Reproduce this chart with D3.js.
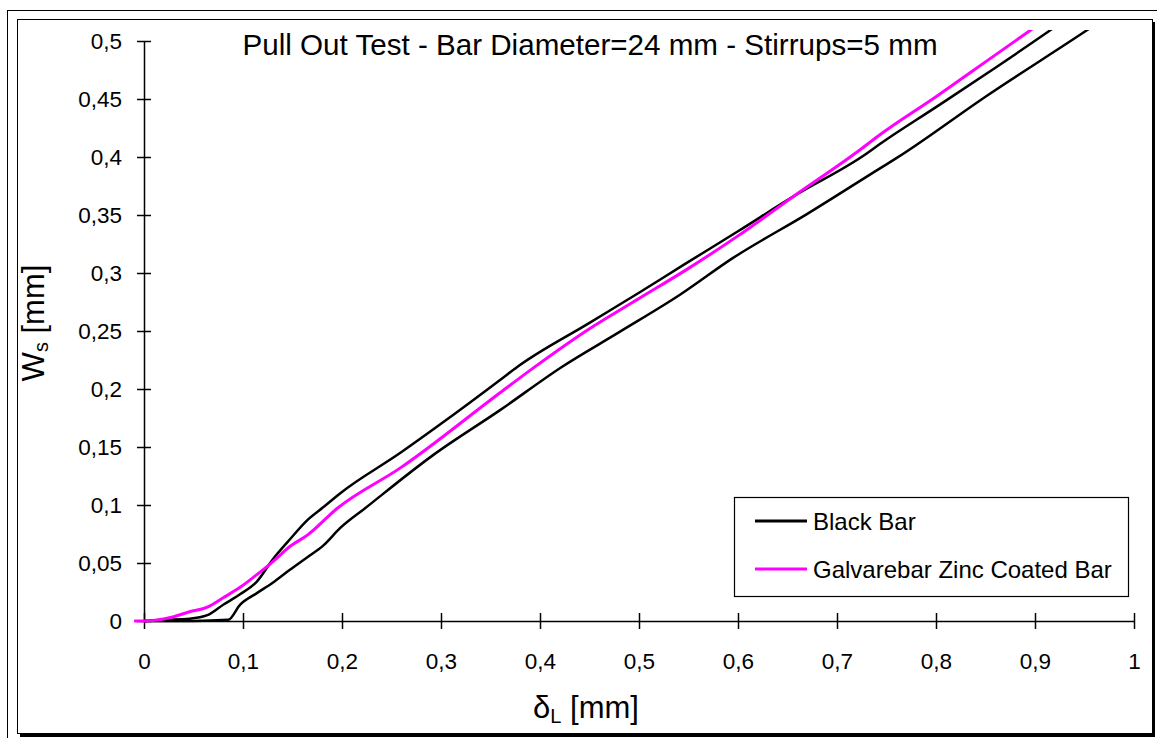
<!DOCTYPE html>
<html><head><meta charset="utf-8">
<script src="https://cdn.jsdelivr.net/npm/d3@7"></script>
<style>body{margin:0;background:#fff}svg{display:block}text{font-family:"Liberation Sans",Arial,sans-serif;fill:#000}</style>
</head><body>
<svg id="c" width="1157" height="738"></svg>
<script>
// ---- data ----
const title = "Pull Out Test - Bar Diameter=24 mm - Stirrups=5 mm";
const xTicks = [0,0.1,0.2,0.3,0.4,0.5,0.6,0.7,0.8,0.9,1];
const yTicks = [0,0.05,0.1,0.15,0.2,0.25,0.3,0.35,0.4,0.45,0.5];
const seriesNames = ["Black Bar","Galvarebar Zinc Coated Bar"];
// Black bar, specimen 1 (upper black curve): [δL, Ws]
const black1 = [[0,0],[0.02,0.001],[0.046,0.002],[0.064,0.005],[0.08,0.014],[0.097,0.023],[0.114,0.034],[0.13,0.053],[0.147,0.07],[0.165,0.087],[0.181,0.098],[0.198,0.11],[0.259,0.145],[0.3,0.17],[0.36,0.208],[0.377,0.219],[0.45,0.257],[0.5,0.283],[0.545,0.307],[0.6,0.336],[0.656,0.366],[0.73,0.403],[0.743,0.411],[0.8,0.443],[0.86,0.477],[0.915,0.509],[0.95,0.53]];
// Black bar, specimen 2 (lower black curve)
const black2 = [[0,0],[0.05,0],[0.085,0.001],[0.097,0.014],[0.114,0.024],[0.13,0.033],[0.147,0.044],[0.165,0.055],[0.181,0.065],[0.198,0.08],[0.223,0.097],[0.292,0.143],[0.36,0.182],[0.422,0.219],[0.48,0.249],[0.541,0.281],[0.595,0.313],[0.67,0.351],[0.743,0.39],[0.76,0.399],[0.85,0.452],[0.952,0.509],[0.98,0.525]];
// Galvarebar zinc coated bar
const galva = [[-0.01,0],[0,0],[0.029,0.0035],[0.046,0.008],[0.064,0.012],[0.08,0.02],[0.097,0.029],[0.114,0.04],[0.13,0.051],[0.147,0.064],[0.165,0.074],[0.195,0.097],[0.259,0.132],[0.36,0.197],[0.393,0.218],[0.45,0.252],[0.5,0.278],[0.55,0.304],[0.6,0.332],[0.656,0.366],[0.723,0.406],[0.743,0.419],[0.8,0.452],[0.85,0.482],[0.895,0.509],[0.93,0.53]];

// ---- drawing ----
const svg = d3.select("#c");
const X0=144, X1=1134, Y0=621, Y1=41;
const x = d3.scaleLinear().domain([0,1]).range([X0,X1]);
const y = d3.scaleLinear().domain([0,0.5]).range([Y0,Y1]);
const fmt = d => String(+d.toFixed(2)).replace(".",",");

// frame
svg.append("line").attr("x1",7).attr("y1",10.5).attr("x2",1157).attr("y2",10.5).attr("stroke","#000");
svg.append("line").attr("x1",7.5).attr("y1",10).attr("x2",7.5).attr("y2",738).attr("stroke","#000");
svg.append("rect").attr("x",20).attr("y",22).attr("width",1135).attr("height",715).attr("fill","#000");
svg.append("rect").attr("x",17.5).attr("y",19.5).attr("width",1135).attr("height",714).attr("fill","#fff").attr("stroke","#000");

// title
svg.append("text").attr("x",590).attr("y",55).attr("text-anchor","middle").attr("font-size",29.6).text(title);

// axes
const gx = svg.append("g").attr("transform",`translate(0,${Y0})`)
  .call(d3.axisBottom(x).tickValues(xTicks).tickFormat(fmt).tickSizeInner(8).tickSizeOuter(0).tickPadding(24));
gx.selectAll(".tick line").attr("y1",-8).attr("stroke-width",1.5);
gx.select(".domain").attr("stroke-width",1.5);
gx.selectAll("text").attr("font-size",22.5).attr("font-family","Liberation Sans, Arial, sans-serif");
const gy = svg.append("g").attr("transform",`translate(${X0},0)`)
  .call(d3.axisLeft(y).tickValues(yTicks).tickFormat(fmt).tickSizeInner(7).tickSizeOuter(0).tickPadding(15));
gy.selectAll(".tick line").attr("x1",7).attr("stroke-width",1.5);
gy.select(".domain").attr("stroke-width",1.5);
gy.selectAll("text").attr("font-size",22.5).attr("font-family","Liberation Sans, Arial, sans-serif");

// axis titles
const xt = svg.append("text").attr("x",586).attr("y",718).attr("text-anchor","middle").attr("font-size",31);
xt.append("tspan").text("δ");
xt.append("tspan").attr("font-size",20).attr("dy",5).text("L");
xt.append("tspan").attr("dy",-5).text(" [mm]");
const yt = svg.append("text").attr("transform","translate(44,323) rotate(-90)").attr("text-anchor","middle").attr("font-size",31);
yt.append("tspan").text("W");
yt.append("tspan").attr("font-size",20).attr("dy",4).text("s");
yt.append("tspan").attr("dy",-4).text(" [mm]");

// clip (plot area reaches slightly above the 0,5 gridline)
svg.append("clipPath").attr("id","pc").append("rect").attr("x",100).attr("y",30).attr("width",X1-100).attr("height",Y0-30+20);
const line = d3.line().x(d=>x(d[0])).y(d=>y(d[1])).curve(d3.curveMonotoneX);
const pg = svg.append("g").attr("clip-path","url(#pc)");
pg.append("path").datum(black2).attr("d",line).attr("fill","none").attr("stroke","#000").attr("stroke-width",2.5);
pg.append("path").datum(black1).attr("d",line).attr("fill","none").attr("stroke","#000").attr("stroke-width",2.5);
pg.append("path").datum(galva).attr("d",line).attr("fill","none").attr("stroke","#ff00ff").attr("stroke-width",3);

// legend
const lg = svg.append("g");
lg.append("rect").attr("x",734.5).attr("y",497.5).attr("width",394).attr("height",99).attr("fill","#fff").attr("stroke","#000").attr("stroke-width",1.2);
const colors = ["#000","#ff00ff"];
seriesNames.forEach((n,i)=>{
  const cy = 521 + i*48;
  lg.append("line").attr("x1",755).attr("x2",807).attr("y1",cy).attr("y2",cy).attr("stroke",colors[i]).attr("stroke-width",3);
  lg.append("text").attr("x",813).attr("y",cy+8.5).attr("font-size",24).text(n);
});
</script>
</body></html>
